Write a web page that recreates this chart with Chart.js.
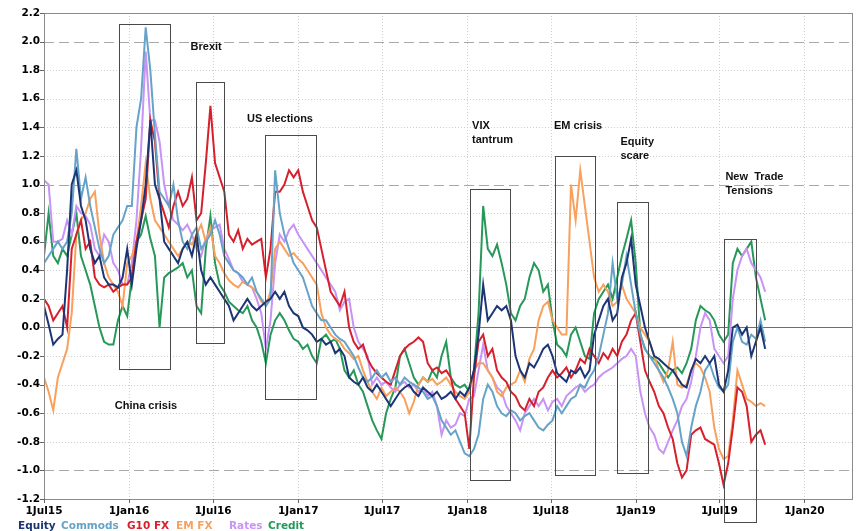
<!DOCTYPE html>
<html>
<head>
<meta charset="utf-8">
<script src="https://cdn.jsdelivr.net/npm/chart.js@4.4.1/dist/chart.umd.min.js"></script>
<style>
  html, body { margin: 0; padding: 0; background: #fff; }
  #wrap { width: 861px; height: 531px; }
</style>
</head>
<body>
<div id="wrap"><canvas id="chart" width="861" height="531"></canvas></div>
<script>
// sample points: days since 1 Jul 2015, every 10 days
const DAYS = [
  0,10,20,30,40,50,60,70,80,90,
  100,110,120,130,140,150,160,170,180,190,
  200,210,220,230,240,250,260,270,280,290,
  300,310,320,330,340,350,360,370,380,390,
  400,410,420,430,440,450,460,470,480,490,
  500,510,520,530,540,550,560,570,580,590,
  600,610,620,630,640,650,660,670,680,690,
  700,710,720,730,740,750,760,770,780,790,
  800,810,820,830,840,850,860,870,880,890,
  900,910,920,930,940,950,960,970,980,990,
  1000,1010,1020,1030,1040,1050,1060,1070,1080,1090,
  1100,1110,1120,1130,1140,1150,1160,1170,1180,1190,
  1200,1210,1220,1230,1240,1250,1260,1270,1280,1290,
  1300,1310,1320,1330,1340,1350,1360,1370,1380,1390,
  1400,1410,1420,1430,1440,1450,1460,1470,1480,1490,
  1500,1510,1520,1530,1540,1550,1560
];

const EQUITY = [
  0.15,0.02,-0.12,-0.08,-0.05,0.4,1.0,1.1,0.85,0.75,
  0.55,0.45,0.5,0.35,0.3,0.3,0.28,0.35,0.55,0.3,
  0.55,0.75,1.0,1.45,1.0,0.9,0.6,0.55,0.5,0.45,
  0.55,0.6,0.5,0.65,0.4,0.3,0.35,0.3,0.25,0.2,
  0.15,0.05,0.1,0.15,0.2,0.15,0.12,0.15,0.18,0.2,
  0.25,0.2,0.25,0.15,0.1,0.08,0.0,-0.02,-0.05,-0.1,
  -0.08,-0.12,-0.1,-0.18,-0.15,-0.2,-0.35,-0.38,-0.4,-0.35,
  -0.42,-0.45,-0.4,-0.45,-0.5,-0.55,-0.5,-0.45,-0.42,-0.4,
  -0.45,-0.48,-0.42,-0.45,-0.48,-0.45,-0.5,-0.48,-0.45,-0.5,
  -0.45,-0.48,-0.42,-0.3,-0.05,0.3,0.05,0.1,0.15,0.12,
  0.15,0.05,-0.2,-0.3,-0.35,-0.25,-0.28,-0.22,-0.15,-0.12,
  -0.2,-0.32,-0.35,-0.38,-0.3,-0.32,-0.28,-0.35,-0.3,-0.05,
  0.05,0.15,0.2,0.05,0.1,0.35,0.45,0.62,0.3,0.15,
  0.0,-0.1,-0.2,-0.22,-0.25,-0.28,-0.3,-0.35,-0.4,-0.42,
  -0.3,-0.22,-0.25,-0.2,-0.25,-0.2,-0.4,-0.45,-0.3,0.0,
  0.02,-0.05,0.0,-0.2,-0.1,0.0,-0.15
];

const COMMODS = [
  0.45,0.5,0.55,0.6,0.55,0.6,0.8,1.25,0.9,1.05,
  0.85,0.7,0.55,0.45,0.5,0.65,0.7,0.75,0.85,0.85,
  1.4,1.6,2.1,1.8,1.35,0.95,0.9,0.85,1.0,0.75,
  0.6,0.55,0.65,0.7,0.55,0.6,0.65,0.75,0.65,0.5,
  0.45,0.4,0.38,0.35,0.3,0.35,0.25,0.2,0.15,0.2,
  1.1,0.8,0.65,0.55,0.45,0.4,0.35,0.25,0.15,0.1,
  0.05,0.05,0.0,-0.05,-0.08,-0.1,-0.15,-0.2,-0.28,-0.35,
  -0.38,-0.35,-0.3,-0.35,-0.32,-0.38,-0.35,-0.4,-0.35,-0.38,
  -0.4,-0.42,-0.45,-0.5,-0.48,-0.55,-0.65,-0.7,-0.75,-0.72,
  -0.8,-0.88,-0.9,-0.85,-0.75,-0.5,-0.4,-0.45,-0.55,-0.6,
  -0.62,-0.58,-0.6,-0.65,-0.62,-0.6,-0.65,-0.7,-0.72,-0.68,
  -0.65,-0.55,-0.6,-0.55,-0.5,-0.48,-0.4,-0.42,-0.35,-0.3,
  -0.2,-0.05,0.1,0.45,0.2,0.3,0.5,0.3,0.1,-0.05,
  -0.15,-0.2,-0.25,-0.3,-0.35,-0.42,-0.5,-0.6,-0.8,-0.9,
  -0.7,-0.55,-0.45,-0.3,-0.25,-0.35,-0.42,-0.45,-0.4,-0.1,
  0.0,-0.1,-0.12,-0.05,-0.08,0.05,-0.1
];

const G10_FX = [
  0.2,0.15,0.05,0.1,0.15,0.0,0.55,0.65,0.75,0.55,
  0.6,0.35,0.3,0.28,0.3,0.25,0.28,0.3,0.3,0.35,
  0.6,0.75,0.9,1.45,1.3,0.9,0.8,0.7,0.85,0.95,
  0.85,0.9,1.05,0.75,0.8,1.15,1.55,1.15,1.05,0.95,
  0.65,0.6,0.68,0.55,0.62,0.58,0.6,0.62,0.35,0.55,
  0.95,0.95,1.0,1.1,1.05,1.1,0.95,0.85,0.75,0.7,
  0.55,0.4,0.25,0.2,0.15,0.25,0.0,-0.1,-0.15,-0.12,
  -0.22,-0.28,-0.32,-0.35,-0.38,-0.4,-0.3,-0.2,-0.15,-0.12,
  -0.1,-0.07,-0.1,-0.25,-0.3,-0.28,-0.32,-0.3,-0.35,-0.5,
  -0.55,-0.6,-0.85,-0.35,-0.1,-0.05,-0.2,-0.15,-0.3,-0.35,
  -0.38,-0.45,-0.48,-0.55,-0.58,-0.5,-0.55,-0.45,-0.42,-0.35,
  -0.3,-0.35,-0.32,-0.28,-0.35,-0.3,-0.22,-0.25,-0.15,-0.2,
  -0.25,-0.18,-0.22,-0.15,-0.2,-0.1,-0.05,0.05,0.1,-0.1,
  -0.3,-0.38,-0.45,-0.55,-0.6,-0.7,-0.78,-0.95,-1.05,-1.0,
  -0.75,-0.72,-0.7,-0.78,-0.8,-0.82,-0.95,-1.1,-0.95,-0.7,
  -0.42,-0.45,-0.55,-0.8,-0.75,-0.72,-0.82
];

const EM_FX = [
  -0.35,-0.45,-0.58,-0.35,-0.25,-0.15,0.1,0.65,0.75,0.8,
  0.9,0.95,0.65,0.45,0.35,0.3,0.25,0.15,0.45,0.5,
  0.6,0.85,1.15,0.9,0.75,0.7,0.65,0.6,0.55,0.5,
  0.55,0.6,0.58,0.65,0.72,0.6,0.7,0.5,0.45,0.38,
  0.33,0.3,0.28,0.32,0.3,0.28,0.25,0.18,0.15,0.25,
  0.55,0.6,0.55,0.5,0.52,0.48,0.45,0.4,0.35,0.3,
  0.1,0.0,-0.05,-0.08,-0.1,-0.15,-0.18,-0.22,-0.2,-0.3,
  -0.38,-0.45,-0.5,-0.42,-0.48,-0.45,-0.42,-0.45,-0.5,-0.6,
  -0.52,-0.4,-0.35,-0.38,-0.36,-0.4,-0.38,-0.35,-0.4,-0.45,
  -0.48,-0.5,-0.45,-0.3,-0.25,-0.25,-0.3,-0.35,-0.45,-0.48,
  -0.42,-0.4,-0.38,-0.3,-0.38,-0.22,-0.15,0.05,0.15,0.18,
  0.05,0.0,-0.05,-0.05,1.0,0.75,1.1,0.85,0.6,0.35,
  0.25,0.3,0.25,0.15,0.18,0.3,0.2,0.15,0.1,0.0,
  -0.05,-0.1,-0.2,-0.3,-0.38,-0.3,-0.1,-0.4,-0.42,-0.4,
  -0.3,-0.25,-0.28,-0.35,-0.45,-0.7,-0.85,-0.92,-0.9,-0.65,
  -0.3,-0.4,-0.5,-0.52,-0.55,-0.53,-0.55
];

const RATES = [
  1.03,1.0,0.6,0.6,0.62,0.75,0.65,0.85,0.8,0.78,
  0.72,0.55,0.5,0.65,0.6,0.45,0.4,0.3,0.3,0.45,
  0.75,1.25,1.93,1.45,1.45,1.3,1.0,0.85,0.75,0.72,
  0.68,0.72,0.65,0.55,0.5,0.62,0.68,0.7,0.72,0.55,
  0.48,0.4,0.38,0.32,0.3,0.28,0.2,0.1,-0.15,0.05,
  0.45,0.65,0.6,0.68,0.72,0.65,0.6,0.55,0.5,0.45,
  0.4,0.35,0.3,0.25,0.12,0.18,0.2,0.0,-0.1,-0.15,
  -0.2,-0.4,-0.35,-0.4,-0.38,-0.42,-0.45,-0.4,-0.38,-0.42,
  -0.4,-0.45,-0.42,-0.48,-0.45,-0.55,-0.75,-0.65,-0.7,-0.68,
  -0.6,-0.62,-0.5,-0.48,-0.3,-0.12,-0.3,-0.35,-0.42,-0.45,
  -0.55,-0.6,-0.65,-0.72,-0.6,-0.55,-0.5,-0.55,-0.5,-0.58,
  -0.52,-0.5,-0.55,-0.48,-0.45,-0.42,-0.4,-0.45,-0.42,-0.4,
  -0.35,-0.32,-0.3,-0.28,-0.25,-0.22,-0.2,-0.15,-0.2,-0.45,
  -0.6,-0.7,-0.75,-0.85,-0.88,-0.8,-0.72,-0.65,-0.55,-0.5,
  -0.38,-0.2,0.0,0.1,0.05,-0.15,-0.2,-0.25,-0.2,0.2,
  0.4,0.5,0.55,0.45,0.4,0.35,0.25
];

const CREDIT = [
  0.5,0.8,0.5,0.45,0.55,0.5,0.65,0.8,0.5,0.4,
  0.3,0.15,0.0,-0.1,-0.12,-0.12,0.05,0.15,0.08,0.35,
  0.6,0.65,0.78,0.62,0.5,0.0,0.35,0.38,0.4,0.42,
  0.45,0.35,0.4,0.15,0.1,0.55,0.78,0.45,0.3,0.25,
  0.18,0.15,0.12,0.1,0.15,0.05,0.0,-0.1,-0.25,-0.05,
  0.05,0.1,0.05,-0.02,-0.08,-0.1,-0.15,-0.12,-0.2,-0.25,
  -0.08,-0.05,-0.1,-0.08,-0.15,-0.3,-0.35,-0.3,-0.4,-0.45,
  -0.55,-0.65,-0.72,-0.78,-0.6,-0.5,-0.42,-0.2,-0.15,-0.25,
  -0.35,-0.4,-0.35,-0.38,-0.3,-0.35,-0.2,-0.1,-0.35,-0.4,
  -0.42,-0.4,-0.45,-0.3,0.1,0.85,0.55,0.5,0.58,0.45,
  0.3,0.1,0.05,0.15,0.2,0.35,0.45,0.4,0.25,0.3,
  0.05,-0.12,-0.15,-0.2,-0.05,0.0,-0.1,-0.2,-0.22,0.1,
  0.2,0.25,0.3,0.2,0.35,0.5,0.62,0.75,0.45,-0.05,
  -0.15,-0.2,-0.22,-0.25,-0.3,-0.35,-0.3,-0.28,-0.32,-0.25,
  -0.15,0.05,0.15,0.12,0.1,0.05,-0.05,-0.1,-0.05,0.45,
  0.55,0.5,0.55,0.6,0.35,0.2,0.05
];

const SERIES_NAMES = ["Equity", "Commods", "G10 FX", "EM FX", "Rates", "Credit"];
const SERIES_COLORS = ["#1c3575", "#66a3c8", "#d6202c", "#f9a05c", "#c893f5", "#27985a"];

const X_TICK_DAYS = [0, 184, 366, 550, 731, 915, 1096, 1280, 1461, 1645];
const X_TICK_LABELS = ["1Jul15", "1Jan16", "1Jul16", "1Jan17", "1Jul17", "1Jan18", "1Jul18", "1Jan19", "1Jul19", "1Jan20"];

// event boxes: start day, end day, top, bottom
const BOX_START = [163, 328, 478, 922, 1106, 1240, 1472];
const BOX_END = [272, 390, 588, 1008, 1192, 1307, 1541];
const BOX_TOP = [2.12, 1.72, 1.35, 0.97, 1.2, 0.88, 0.62];
const BOX_BOTTOM = [-0.29, -0.11, -0.5, -1.07, -1.03, -1.015, -1.36];

const NOTE_TEXT = [["Brexit"], ["US elections"], ["China crisis"], ["VIX", "tantrum"], ["EM crisis"], ["Equity", "scare"], ["New  Trade", "Tensions"]];
const NOTE_DAY = [317, 439, 153, 926, 1103, 1247, 1474];
const NOTE_VAL = [1.96, 1.46, -0.55, 1.41, 1.41, 1.30, 1.05];

const LEGEND_X = [18, 61, 127, 176, 229, 268];

const SERIES = [EQUITY, COMMODS, G10_FX, EM_FX, RATES, CREDIT];

const TICK_FONT = { family: "DejaVu Sans", size: 10.5, weight: "bold" };

// ---------- grid, boxes, notes, legend ----------
const framePlugin = {
  id: "frame",
  beforeDatasetsDraw(chart) {
    const { ctx, chartArea: a, scales: { x, y } } = chart;
    ctx.save();
    ctx.lineWidth = 1;

    // dotted grid
    ctx.strokeStyle = "#cfcfcf";
    ctx.setLineDash([1, 2]);
    y.ticks.forEach(t => {
      const v = Math.round(t.value * 10) / 10;
      if (v === 0 || v === 1 || v === 2 || v === -1) return;
      const py = Math.round(y.getPixelForValue(t.value)) + 0.5;
      ctx.beginPath(); ctx.moveTo(a.left, py); ctx.lineTo(a.right, py); ctx.stroke();
    });
    X_TICK_DAYS.forEach(d => {
      if (d === 0) return;
      const px = Math.round(x.getPixelForValue(d)) + 0.5;
      ctx.beginPath(); ctx.moveTo(px, a.top); ctx.lineTo(px, a.bottom); ctx.stroke();
    });

    // dashed reference levels
    ctx.strokeStyle = "#a8a8a8";
    ctx.setLineDash([10, 5]);
    [2, 1, -1].forEach(v => {
      const py = Math.round(y.getPixelForValue(v)) + 0.5;
      ctx.beginPath(); ctx.moveTo(a.left, py); ctx.lineTo(a.right, py); ctx.stroke();
    });

    // zero line
    ctx.setLineDash([]);
    ctx.strokeStyle = "#6e6e6e";
    const zy = Math.round(y.getPixelForValue(0)) + 0.5;
    ctx.beginPath(); ctx.moveTo(a.left, zy); ctx.lineTo(a.right, zy); ctx.stroke();
    ctx.restore();
  },
  afterDatasetsDraw(chart) {
    const { ctx, chartArea: a, scales: { x, y } } = chart;
    ctx.save();
    ctx.lineWidth = 1;
    ctx.setLineDash([]);

    // plot frame + ticks
    ctx.strokeStyle = "#8a8a8a";
    ctx.strokeRect(Math.round(a.left) + 0.5, Math.round(a.top) + 0.5,
      Math.round(a.right - a.left) - 1, Math.round(a.bottom - a.top));
    ctx.strokeStyle = "#666";
    y.ticks.forEach(t => {
      const py = Math.round(y.getPixelForValue(t.value)) + 0.5;
      ctx.beginPath(); ctx.moveTo(a.left - 4, py); ctx.lineTo(a.left, py); ctx.stroke();
    });
    X_TICK_DAYS.forEach(d => {
      const px = Math.round(x.getPixelForValue(d)) + 0.5;
      ctx.beginPath(); ctx.moveTo(px, a.bottom); ctx.lineTo(px, a.bottom + 4); ctx.stroke();
    });

    // event boxes
    ctx.strokeStyle = "#4a4a4a";
    BOX_START.forEach((s, i) => {
      const x0 = Math.round(x.getPixelForValue(s)) + 0.5;
      const x1 = Math.round(x.getPixelForValue(BOX_END[i])) + 0.5;
      const y0 = Math.round(y.getPixelForValue(BOX_TOP[i])) + 0.5;
      const y1 = Math.round(y.getPixelForValue(BOX_BOTTOM[i])) + 0.5;
      ctx.strokeRect(x0, y0, x1 - x0, y1 - y0);
    });

    // notes
    ctx.fillStyle = "#111";
    ctx.font = 'bold 11px "Liberation Sans", Arial, sans-serif';
    ctx.textBaseline = "middle";
    ctx.textAlign = "left";
    NOTE_TEXT.forEach((lines, i) => {
      const px = x.getPixelForValue(NOTE_DAY[i]);
      const py = y.getPixelForValue(NOTE_VAL[i]);
      lines.forEach((ln, k) => ctx.fillText(ln, px, py + k * 14));
    });

    // legend as coloured words
    ctx.font = 'bold 10.5px "DejaVu Sans"';
    SERIES_NAMES.forEach((n, i) => {
      ctx.fillStyle = SERIES_COLORS[i];
      ctx.fillText(n, LEGEND_X[i], 526);
    });
    ctx.restore();
  }
};

const datasets = SERIES.map((vals, i) => ({
  label: SERIES_NAMES[i],
  data: vals.map((v, k) => ({ x: DAYS[k], y: v })),
  borderColor: SERIES_COLORS[i],
  borderWidth: 2,
  pointRadius: 0,
  tension: 0,
  fill: false
}));

new Chart(document.getElementById("chart"), {
  type: "line",
  data: { datasets },
  options: {
    responsive: false,
    animation: false,
    devicePixelRatio: 1,
    layout: { padding: { left: 0, top: 13, right: 8, bottom: 0 } },
    plugins: { legend: { display: false }, tooltip: { enabled: false } },
    scales: {
      x: {
        type: "linear",
        min: 0,
        max: 1750,
        afterFit: s => { s.height = 32; },
        afterBuildTicks: s => { s.ticks = X_TICK_DAYS.map(v => ({ value: v })); },
        grid: { display: false, drawTicks: false },
        border: { display: false },
        ticks: {
          autoSkip: false,
          maxRotation: 0,
          padding: 6,
          color: "#000",
          font: TICK_FONT,
          callback: v => X_TICK_LABELS[X_TICK_DAYS.indexOf(v)]
        }
      },
      y: {
        min: -1.2,
        max: 2.2,
        afterFit: s => { s.width = 44; },
        grid: { display: false, drawTicks: false },
        border: { display: false },
        ticks: {
          stepSize: 0.2,
          padding: 4,
          color: "#000",
          font: TICK_FONT,
          callback: v => Number(v).toFixed(1)
        }
      }
    }
  },
  plugins: [framePlugin]
});
</script>
</body>
</html>
